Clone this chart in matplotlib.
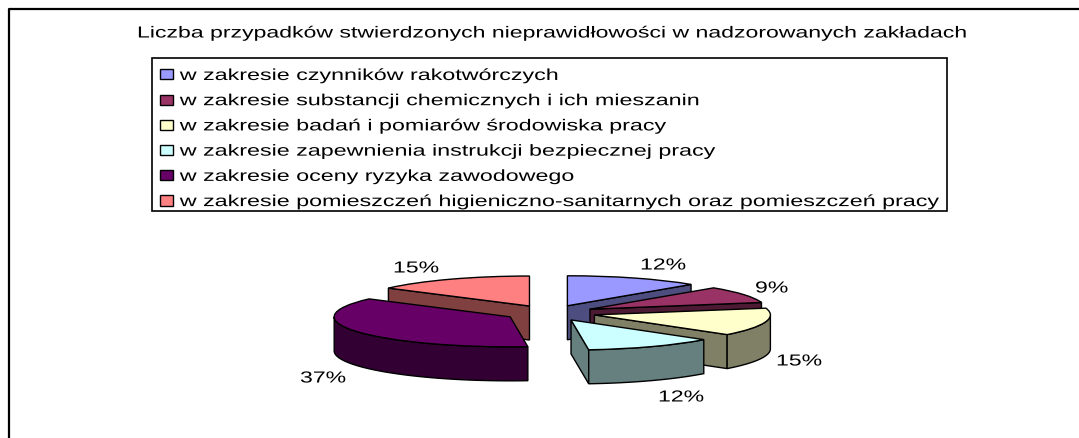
import numpy as np
import matplotlib
matplotlib.use("Agg")
import matplotlib.pyplot as plt
from matplotlib.patches import Patch, Rectangle, Wedge
from matplotlib.patheffects import AbstractPathEffect
from matplotlib.transforms import Affine2D

plt.rcParams['font.family'] = ['Liberation Sans', 'DejaVu Sans']

# Data
title = "Liczba przypadków stwierdzonych nieprawidłowości w nadzorowanych zakładach"
categories = [
    "w zakresie czynników rakotwórczych",
    "w zakresie substancji chemicznych i ich mieszanin",
    "w zakresie badań i pomiarów środowiska pracy",
    "w zakresie zapewnienia instrukcji bezpiecznej pracy",
    "w zakresie oceny ryzyka zawodowego",
    "w zakresie pomieszczeń higieniczno-sanitarnych oraz pomieszczeń pracy",
]
percent = [12.4, 9.0, 15.0, 12.0, 36.8, 14.8]

# Styles
top_colors = ['#9999FF', '#993366', '#FFFFCC', '#CCFFFF', '#660066', '#FF8080']
side_colors = ['#4D4D80', '#4D1A33', '#808066', '#668080', '#330033', '#804040']
draw_order = [5, 4, 0, 1, 2, 3]
label_pixels = [(640, 266), (755, 289), (776, 362), (658, 398), (300, 379), (393, 269)]

W, H = 1079, 439
cx_px, cy_px = 550, 314
rx_px, ry_px = 176, 30
depth = 34 / ry_px
explode = 0.26
edge = dict(edgecolor='black', linewidth=1.0)


class Stretch(AbstractPathEffect):
    # the source picture is stretched sideways, so the text is too
    def __init__(self, sx):
        super().__init__()
        self.sx = sx

    def draw_path(self, renderer, gc, tpath, affine, rgbFace=None):
        renderer.draw_path(gc, tpath, Affine2D().scale(self.sx, 1) + affine, rgbFace)


fig = plt.figure(figsize=(W / 100, H / 100), dpi=100)
ax = fig.add_axes([0, 0, 1, 1])
ax.set_xlim(-cx_px / rx_px, (W - cx_px) / rx_px)
ax.set_ylim((cy_px - H) / ry_px, cy_px / ry_px)
ax.axis('off')


def px(x, y):
    return (x - cx_px) / rx_px, (cy_px - y) / ry_px


# Outer frame, only left and top are inside the picture
frame_x = [9, 9, 1079]
frame_y = [439, 10, 10]
ax.plot(*px(np.array(frame_x), np.array(frame_y)), color='black', lw=1.6, clip_on=False)

ax.text(*px(137, 34), title, ha='left', va='center', fontsize=11.5,
        path_effects=[Stretch(1.443)])

# Exploded 3D pie, angles run clockwise from 12 o'clock
ends = np.cumsum(percent) * 3.6
starts = ends - np.array(percent) * 3.6
for i in draw_order:
    a, b = starts[i], ends[i]
    mid = np.radians((a + b) / 2)
    x0, y0 = explode * np.sin(mid), explode * np.cos(mid)
    # radial walls that face the viewer
    for ang, visible in ((a, np.sin(np.radians(a)) < -1e-6), (b, np.sin(np.radians(b)) > 1e-6)):
        if visible:
            ex, ey = x0 + np.sin(np.radians(ang)), y0 + np.cos(np.radians(ang))
            ax.fill([x0, ex, ex, x0], [y0, ey, ey - depth, y0 - depth],
                    facecolor=side_colors[i], **edge)
    # outer wall, front half only
    lo, hi = max(a, 90), min(b, 270)
    if lo < hi:
        t = np.radians(np.linspace(lo, hi, 60))
        ox, oy = x0 + np.sin(t), y0 + np.cos(t)
        ax.fill(np.r_[ox, ox[::-1]], np.r_[oy, oy[::-1] - depth],
                facecolor=side_colors[i], **edge)
    ax.add_patch(Wedge((x0, y0), 1, 90 - b, 90 - a, facecolor=top_colors[i], **edge))

for pct, (lx, ly) in zip(percent, label_pixels):
    ax.text(*px(lx, ly), f"{pct:.0f}%", ha='left', va='center', fontsize=11.5,
            path_effects=[Stretch(1.443)])

# Legend box drawn apart, the rows need other padding than the frame has
fig.add_artist(Rectangle((152 / W, 1 - 212 / H), 795 / W, 153 / H, transform=fig.transFigure,
                         facecolor='white', edgecolor='black', linewidth=1.2))
handles = [Patch(facecolor=c, edgecolor='black', linewidth=1.0) for c in top_colors]
leg = fig.legend(handles, categories, loc='upper left', mode='expand',
                 bbox_to_anchor=(152 / W, 1 - 214 / H, 795 / W, 153 / H),
                 bbox_transform=fig.transFigure, frameon=False,
                 fontsize=11.5, borderaxespad=0, borderpad=0.5, labelspacing=0.64,
                 handlelength=0.8, handleheight=0.6, handletextpad=0.44)
for txt in leg.get_texts():
    txt.set_path_effects([Stretch(1.457)])

fig.savefig("out.png", dpi=100, facecolor='white')
